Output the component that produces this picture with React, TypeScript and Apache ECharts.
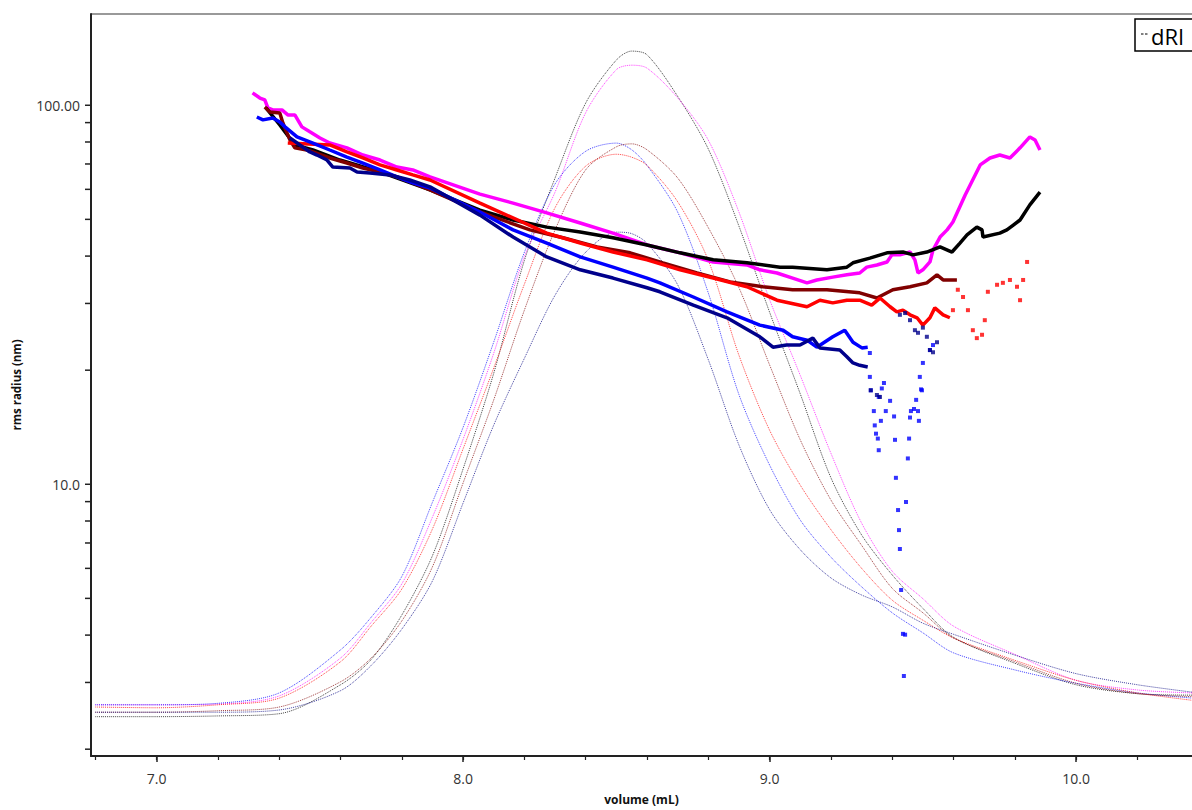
import React, { useEffect, useRef } from 'react';
import * as echarts from 'echarts';

// ---- dRI traces (arbitrary units, shared volume grid) ----
const VOL = [6.8, 7.0, 7.2, 7.4, 7.6, 7.7, 7.8, 7.9, 8.0, 8.1, 8.2, 8.3, 8.4, 8.5, 8.55, 8.6, 8.7, 8.8, 8.9, 9.0, 9.1, 9.2, 9.3, 9.4, 9.5, 9.6, 9.8, 10.0, 10.2, 10.38];
const DRI_BLACK = [0.053, 0.053, 0.054, 0.057, 0.096, 0.130, 0.190, 0.270, 0.387, 0.516, 0.668, 0.779, 0.880, 0.938, 0.950, 0.945, 0.889, 0.818, 0.714, 0.598, 0.488, 0.375, 0.298, 0.244, 0.199, 0.160, 0.125, 0.096, 0.084, 0.082];
const DRI_MAGENTA = [0.069, 0.069, 0.070, 0.081, 0.132, 0.180, 0.232, 0.322, 0.427, 0.543, 0.673, 0.760, 0.867, 0.925, 0.931, 0.927, 0.887, 0.830, 0.733, 0.615, 0.513, 0.408, 0.314, 0.249, 0.212, 0.175, 0.137, 0.102, 0.089, 0.085];
const DRI_BLUE = [0.069, 0.069, 0.071, 0.085, 0.143, 0.187, 0.242, 0.342, 0.443, 0.558, 0.679, 0.771, 0.815, 0.826, 0.817, 0.796, 0.733, 0.624, 0.487, 0.392, 0.318, 0.268, 0.228, 0.193, 0.166, 0.139, 0.116, 0.098, 0.085, 0.078];
const DRI_RED = [0.066, 0.065, 0.069, 0.078, 0.127, 0.175, 0.225, 0.306, 0.414, 0.523, 0.636, 0.739, 0.795, 0.811, 0.807, 0.796, 0.747, 0.668, 0.540, 0.439, 0.365, 0.305, 0.253, 0.210, 0.183, 0.159, 0.129, 0.102, 0.085, 0.075];
const DRI_DARKRED = [0.059, 0.059, 0.061, 0.066, 0.100, 0.132, 0.182, 0.255, 0.368, 0.480, 0.601, 0.709, 0.790, 0.821, 0.825, 0.817, 0.779, 0.712, 0.631, 0.527, 0.426, 0.345, 0.284, 0.226, 0.193, 0.159, 0.127, 0.098, 0.084, 0.080];
const DRI_NAVY = [0.059, 0.059, 0.059, 0.062, 0.088, 0.122, 0.171, 0.236, 0.341, 0.446, 0.536, 0.621, 0.679, 0.706, 0.704, 0.691, 0.635, 0.534, 0.419, 0.332, 0.278, 0.240, 0.217, 0.201, 0.179, 0.164, 0.136, 0.111, 0.096, 0.086];

// ---- rms radius traces [volume mL, radius nm] ----
const R_MAGENTA = [[7.313, 107.8], [7.337, 104.5], [7.353, 103.3], [7.363, 98.4], [7.379, 97.2], [7.409, 97.2], [7.428, 94.3], [7.451, 94.3], [7.474, 87.7], [7.5, 85.1], [7.533, 82.0], [7.565, 79.5], [7.621, 77.2], [7.673, 73.9], [7.729, 71.7], [7.784, 68.7], [7.836, 67.5], [7.892, 64.7], [8.055, 58.3], [8.163, 55.2], [8.273, 52.0], [8.382, 48.9], [8.489, 46.0], [8.6, 42.8], [8.708, 40.8], [8.816, 38.6], [8.926, 37.9], [8.968, 36.8], [9.024, 36.1], [9.075, 35.0], [9.122, 34.0], [9.154, 34.6], [9.206, 35.2], [9.252, 35.7], [9.294, 36.1], [9.317, 37.4], [9.35, 37.9], [9.383, 38.6], [9.399, 40.3], [9.425, 40.3], [9.458, 41.0], [9.474, 39.1], [9.484, 36.1], [9.5, 36.8], [9.523, 38.6], [9.533, 41.5], [9.556, 44.9], [9.579, 46.9], [9.598, 49.2], [9.638, 58.0], [9.687, 69.6], [9.719, 72.6], [9.751, 73.9], [9.784, 72.6], [9.817, 77.2], [9.849, 82.5], [9.866, 81.0], [9.882, 76.2]];
const R_BLACK = [[7.357, 98.4], [7.402, 88.7], [7.451, 78.6], [7.51, 76.2], [7.598, 71.7], [7.729, 66.7], [7.892, 59.8], [8.055, 52.9], [8.163, 49.8], [8.273, 47.7], [8.382, 46.3], [8.489, 44.7], [8.6, 42.8], [8.708, 40.8], [8.816, 39.1], [8.926, 38.4], [9.034, 37.4], [9.075, 37.4], [9.187, 36.8], [9.252, 37.4], [9.272, 38.4], [9.327, 39.5], [9.383, 40.8], [9.435, 41.0], [9.468, 40.3], [9.513, 41.0], [9.556, 42.3], [9.595, 41.0], [9.621, 43.3], [9.644, 45.5], [9.676, 47.7], [9.693, 46.9], [9.696, 44.9], [9.751, 46.0], [9.774, 46.9], [9.795, 48.3], [9.817, 49.8], [9.849, 54.6], [9.882, 59.0]];
const R_DARKRED = [[7.353, 99.0], [7.37, 96.0], [7.402, 95.4], [7.412, 89.8], [7.435, 81.0], [7.451, 77.2], [7.49, 76.2], [7.51, 75.3], [7.565, 72.6], [7.621, 70.4], [7.673, 68.3], [7.729, 66.7], [7.784, 64.7], [7.836, 62.4], [7.892, 59.8], [8.055, 52.3], [8.218, 46.9], [8.326, 44.7], [8.437, 42.3], [8.545, 40.8], [8.652, 38.4], [8.763, 36.1], [8.871, 34.2], [8.978, 33.2], [9.075, 32.6], [9.187, 32.6], [9.294, 32.0], [9.35, 31.0], [9.402, 32.6], [9.458, 33.2], [9.513, 34.0], [9.546, 35.7], [9.566, 34.6], [9.611, 34.6]];
const R_RED = [[7.428, 79.5], [7.565, 78.6], [7.621, 75.3], [7.673, 72.6], [7.729, 69.6], [7.784, 67.5], [7.836, 65.5], [7.892, 63.5], [8.055, 55.2], [8.273, 46.0], [8.382, 43.3], [8.489, 41.0], [8.6, 39.1], [8.708, 36.8], [8.816, 35.0], [8.926, 33.2], [9.024, 30.6], [9.122, 29.4], [9.164, 30.6], [9.206, 30.1], [9.252, 30.6], [9.294, 30.6], [9.333, 29.7], [9.36, 31.0], [9.393, 29.4], [9.415, 28.5], [9.435, 28.8], [9.458, 28.0], [9.481, 27.5], [9.5, 26.3], [9.523, 27.5], [9.539, 29.2], [9.566, 28.0], [9.588, 27.5]];
const R_RED_DOTS = [[9.598, 28.8], [9.614, 32.6], [9.631, 31.2], [9.647, 28.8], [9.663, 25.5], [9.676, 24.3], [9.693, 24.8], [9.702, 27.1], [9.712, 32.2], [9.742, 33.6], [9.761, 34.0], [9.784, 34.6], [9.807, 33.2], [9.817, 30.6], [9.827, 34.6], [9.84, 38.6]];
const R_BLUE = [[7.327, 93.1], [7.347, 91.5], [7.379, 92.6], [7.402, 90.3], [7.419, 87.7], [7.458, 82.5], [7.51, 79.5], [7.565, 76.2], [7.621, 73.0], [7.673, 70.4], [7.729, 67.5], [7.784, 64.7], [7.836, 62.4], [7.892, 60.5], [8.055, 52.3], [8.163, 46.9], [8.273, 43.3], [8.382, 39.8], [8.489, 37.4], [8.6, 35.0], [8.642, 34.0], [8.751, 31.2], [8.861, 28.5], [8.968, 26.3], [9.044, 25.5], [9.075, 24.5], [9.122, 24.0], [9.154, 23.0], [9.206, 24.5], [9.245, 25.5], [9.272, 23.7], [9.301, 22.9], [9.32, 23.0]];
const R_BLUE_DOTS = [[9.327, 22.2], [9.327, 19.2], [9.33, 17.7], [9.34, 15.6], [9.343, 14.3], [9.347, 13.6], [9.353, 13.2], [9.356, 12.3], [9.356, 17.0], [9.363, 14.7], [9.366, 17.9], [9.373, 18.5], [9.379, 15.6], [9.393, 16.6], [9.406, 15.1], [9.409, 13.1], [9.412, 10.4], [9.419, 8.55], [9.422, 7.57], [9.425, 6.75], [9.429, 5.26], [9.435, 4.03], [9.442, 4.01], [9.438, 3.12], [9.445, 8.98], [9.451, 11.7], [9.455, 13.2], [9.458, 15.0], [9.461, 15.6], [9.471, 15.8], [9.478, 16.7], [9.484, 15.6], [9.487, 14.7], [9.494, 17.8], [9.49, 19.2], [9.497, 17.7], [9.5, 20.9], [9.523, 22.6], [9.533, 23.3]];
const R_NAVY = [[7.435, 82.0], [7.5, 75.3], [7.523, 73.9], [7.556, 71.7], [7.575, 68.7], [7.631, 68.3], [7.654, 66.7], [7.696, 66.3], [7.761, 65.5], [7.826, 63.5], [7.892, 60.9], [8.055, 51.3], [8.163, 44.9], [8.273, 39.8], [8.382, 36.8], [8.489, 35.0], [8.6, 33.0], [8.642, 32.2], [8.751, 29.7], [8.861, 27.5], [8.913, 26.0], [8.968, 24.5], [9.011, 23.0], [9.055, 23.3], [9.099, 23.3], [9.141, 24.3], [9.164, 22.9], [9.229, 22.6], [9.252, 21.7], [9.272, 20.9], [9.294, 20.6], [9.32, 20.4]];
const R_NAVY_DOTS = [[9.33, 17.7], [9.35, 17.2], [9.36, 17.0], [9.425, 28.0], [9.442, 28.3], [9.458, 27.1], [9.474, 25.5], [9.484, 25.1], [9.5, 25.9], [9.513, 24.5], [9.523, 22.6], [9.533, 22.3], [9.546, 23.7]];

// ---- axis ticks ----
const X_MAJOR = [7, 8, 9, 10];
const X_MINOR = [6.8, 7.0, 7.2, 7.4, 7.6, 7.8, 8.0, 8.2, 8.4, 8.6, 8.8, 9.0, 9.2, 9.4, 9.6, 9.8, 10.0, 10.2];
const Y_TICKS = [2, 3, 4, 5, 6, 7, 8, 9, 10, 20, 30, 40, 50, 60, 70, 80, 90, 100];

const FONT = '"Open Sans", "Noto Sans", sans-serif';

export default function App() {
  const ref = useRef<HTMLDivElement>(null);
  useEffect(() => {
    const chart = echarts.init(ref.current!, null, { renderer: 'svg' });
    const zip = (ys: number[]) => VOL.map((x, i) => [x, ys[i]]);
    const dri = (color: string, ys: number[]) => ({
      type: 'line', xAxisIndex: 0, yAxisIndex: 1, data: zip(ys), smooth: 0.3,
      showSymbol: false, silent: true, z: 1,
      lineStyle: { type: 'dotted', width: 1, color, opacity: 0.75 },
    });
    const rline = (color: string, data: number[][]) => ({
      type: 'line', xAxisIndex: 0, yAxisIndex: 0, data, showSymbol: false, silent: true, z: 3,
      lineStyle: { width: 3.5, color },
    });
    const rdots = (color: string, data: number[][]) => ({
      type: 'scatter', xAxisIndex: 0, yAxisIndex: 0, data, symbol: 'rect', symbolSize: 4, silent: true, z: 3,
      itemStyle: { color },
    });
    const AX = '#222';
    chart.setOption({
      animation: false,
      grid: { left: 91, right: 0, top: 14, bottom: 54, containLabel: false, outerBoundsMode: 'none' },
      xAxis: [
        {
          type: 'value', min: 6.786, max: 10.378, position: 'bottom',
          axisLine: { lineStyle: { color: AX, width: 2 } },
          axisTick: { show: true, customValues: X_MAJOR, length: 6, lineStyle: { color: AX, width: 1.5 } },
          axisLabel: { customValues: X_MAJOR, formatter: (v: number) => v.toFixed(1), margin: 15, fontSize: 14, color: '#333', fontFamily: FONT },
          splitLine: { show: false },
          name: 'volume (mL)', nameLocation: 'middle', nameGap: 37,
          nameTextStyle: { fontWeight: 'bold', fontSize: 12, color: '#111', fontFamily: FONT },
        },
        {
          type: 'value', min: 6.786, max: 10.378, position: 'bottom',
          axisLine: { show: false },
          axisTick: { show: true, customValues: X_MINOR, length: 4, lineStyle: { color: AX, width: 1.2 } },
          axisLabel: { show: false }, splitLine: { show: false },
        },
      ],
      yAxis: [
        {
          type: 'log', logBase: 10, min: 1.919, max: 174.1, position: 'left',
          axisLine: { show: true, lineStyle: { color: AX, width: 2 } },
          axisTick: { show: false }, minorTick: { show: false }, splitLine: { show: false },
          axisLabel: {
            showMinLabel: false, showMaxLabel: false, margin: 11, fontSize: 14, color: '#333', fontFamily: FONT,
            formatter: (v: number) => (Math.abs(v - 100) < 0.01 ? '100.00' : Math.abs(v - 10) < 0.001 ? '10.0' : ''),
          },
          name: 'rms radius (nm)', nameLocation: 'middle', nameGap: 69,
          nameTextStyle: { fontWeight: 'bold', fontSize: 11.5, color: '#111', fontFamily: FONT },
        },
        { type: 'value', min: 0, max: 1, show: false },
      ],
      series: [
        dri('#000000', DRI_BLACK),
        dri('#ff00ff', DRI_MAGENTA),
        dri('#0000ff', DRI_BLUE),
        dri('#ff0000', DRI_RED),
        dri('#800000', DRI_DARKRED),
        dri('#000080', DRI_NAVY),
        rline('#ff00ff', R_MAGENTA),
        rline('#000000', R_BLACK),
        rline('#800000', R_DARKRED),
        rline('#ff0000', R_RED),
        rdots('#ff0000', R_RED_DOTS),
        rline('#0000ff', R_BLUE),
        rdots('#0000ff', R_BLUE_DOTS),
        rline('#00008b', R_NAVY),
        rdots('#00008b', R_NAVY_DOTS),
      ],
    });
    const ticks = Y_TICKS.map((v) => {
      const y = chart.convertToPixel({ yAxisIndex: 0 }, v) as unknown as number;
      return { type: 'line', silent: true, shape: { x1: 85, y1: y, x2: 91, y2: y }, style: { stroke: AX, lineWidth: 1.5 } };
    });
    chart.setOption({
      graphic: {
        elements: [
          ...ticks,
          { type: 'line', silent: true, shape: { x1: 91, y1: 14, x2: 1192, y2: 14 }, style: { stroke: '#777', lineWidth: 1.5 } },
          { type: 'rect', silent: true, shape: { x: 1135, y: 19, width: 80, height: 32 }, style: { fill: '#fff', stroke: '#000', lineWidth: 1.5 }, z: 10 },
          { type: 'line', silent: true, shape: { x1: 1141, y1: 34, x2: 1148, y2: 34 }, style: { stroke: '#000', lineWidth: 1, lineDash: [2.5, 1.5] }, z: 11 },
          { type: 'text', silent: true, x: 1151, y: 36, style: { text: 'dRI', font: '22px ' + FONT, fill: '#000', verticalAlign: 'middle' }, z: 11 },
        ],
      },
    });
    return () => chart.dispose();
  }, []);
  return <div ref={ref} style={{ position: 'absolute', left: 0, top: 0, width: 1192, height: 810 }} />;
}
